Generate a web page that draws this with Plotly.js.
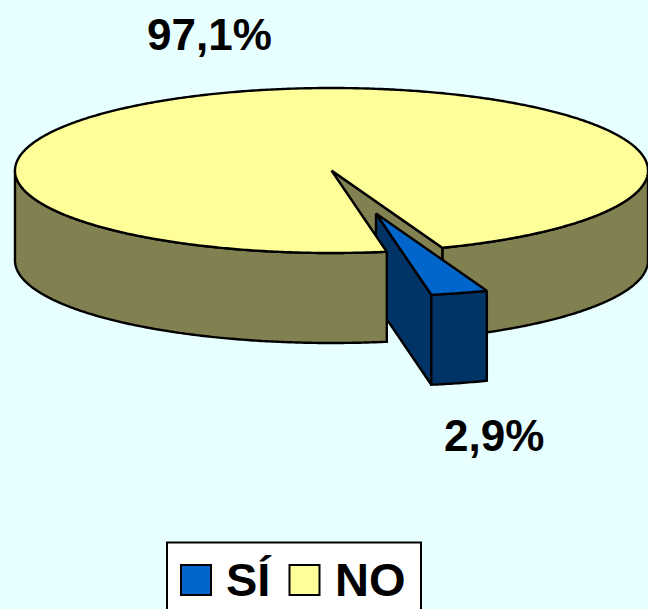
<!DOCTYPE html>
<html>
<head>
<meta charset="utf-8">
<script src="https://cdn.plot.ly/plotly-3.0.1.min.js"></script>
<style>html,body{margin:0;padding:0;background:#E8FFFF;overflow:hidden}#c{width:648px;height:609px}</style>
</head>
<body>
<div id="c"></div>
<script>
const categories = ["SÍ", "NO"];
const shares = [2.9, 97.1];
const topColors = ["#0066CC", "#FFFF99"];
const sideColors = ["#003366", "#808050"];
const backgroundColor = "#E8FFFF";

// projection of the tilted pie
const cx = 331.5, cy = 170.5, rx = 316.5, ry = 82.5, depth = 90;
const startDeg = 69.5, explodeX = 44.5, explodeY = 43;

const total = shares[0] + shares[1];
const sweep = shares[0] / total * 360;
const a1 = startDeg, a2 = startDeg + sweep;
const pt = (deg, dx = 0, dy = 0) => {
  const t = deg * Math.PI / 180;
  return [cx + rx * Math.cos(t) + dx, cy + ry * Math.sin(t) + dy];
};
const arc = (from, to, dx = 0, dy = 0) => {
  const n = Math.max(2, Math.ceil(Math.abs(to - from) * 2));
  const out = [];
  for (let i = 0; i <= n; i++) out.push(pt(from + (to - from) * i / n, dx, dy));
  return out;
};
const poly = (points, color, name) => {
  const closed = points.concat([points[0]]);
  return {
    type: "scatter", mode: "lines", x: closed.map(p => p[0]), y: closed.map(p => p[1]),
    fill: "toself", fillcolor: color, line: { color: "#000", width: 2.4, simplify: false },
    hoverinfo: "skip", showlegend: false, name: name || ""
  };
};
const c0 = [cx, cy];

const traces = [
  poly(arc(0, a1).concat(arc(a1, 0, 0, depth)), sideColors[1], categories[1]),
  poly([c0, pt(a1), pt(a1, 0, depth), [cx, cy + depth]], sideColors[1], categories[1]),
  poly([[cx + explodeX, cy + explodeY], [cx + explodeX, cy + explodeY + depth], pt(a2, explodeX, explodeY + depth), pt(a2, explodeX, explodeY)], sideColors[0], categories[0]),
  poly(arc(a1, a2, explodeX, explodeY).concat(arc(a2, a1, explodeX, explodeY + depth)), sideColors[0], categories[0]),
  poly([[cx + explodeX, cy + explodeY]].concat(arc(a1, a2, explodeX, explodeY)), topColors[0], categories[0]),
  poly(arc(a2, 180).concat(arc(180, a2, 0, depth)), sideColors[1], categories[1]),
  poly([c0].concat(arc(a2, a1 + 360)), topColors[1], categories[1])
];

const fmt = v => v.toFixed(1).replace(".", ",") + "%";
const fam = "Liberation Sans, Arial, sans-serif";
const labelFont = { family: fam, size: 44, color: "#000" };
const legendFont = { family: fam, size: 47, color: "#000" };
const swatchX = [181, 289.5], textX = [224, 333];

const layout = {
  width: 648, height: 609,
  margin: { l: 0, r: 0, t: 0, b: 0 },
  paper_bgcolor: backgroundColor, plot_bgcolor: backgroundColor,
  xaxis: { range: [0, 648], visible: false, fixedrange: true },
  yaxis: { range: [609, 0], visible: false, fixedrange: true },
  showlegend: false,
  shapes: [
    { type: "rect", xref: "x", yref: "y", x0: 167, x1: 421, y0: 542.5, y1: 615, fillcolor: "#FFF", line: { color: "#000", width: 2 } }
  ].concat(categories.map((c, i) => ({
    type: "rect", xref: "x", yref: "y", x0: swatchX[i], x1: swatchX[i] + 30, y0: 565, y1: 595,
    fillcolor: topColors[i], line: { color: "#000", width: 2 }
  }))),
  annotations: [
    { x: 209.5, y: 34, text: "<b>" + fmt(shares[1]) + "</b>", showarrow: false, font: labelFont },
    { x: 494, y: 435, text: "<b>" + fmt(shares[0]) + "</b>", showarrow: false, font: labelFont }
  ].concat(categories.map((c, i) => ({
    x: textX[i], y: 579, xanchor: "left", text: "<b>" + c + "</b>", showarrow: false, font: legendFont
  })))
};
Plotly.newPlot("c", traces, layout, { displayModeBar: false, staticPlot: true });
</script>
</body>
</html>
